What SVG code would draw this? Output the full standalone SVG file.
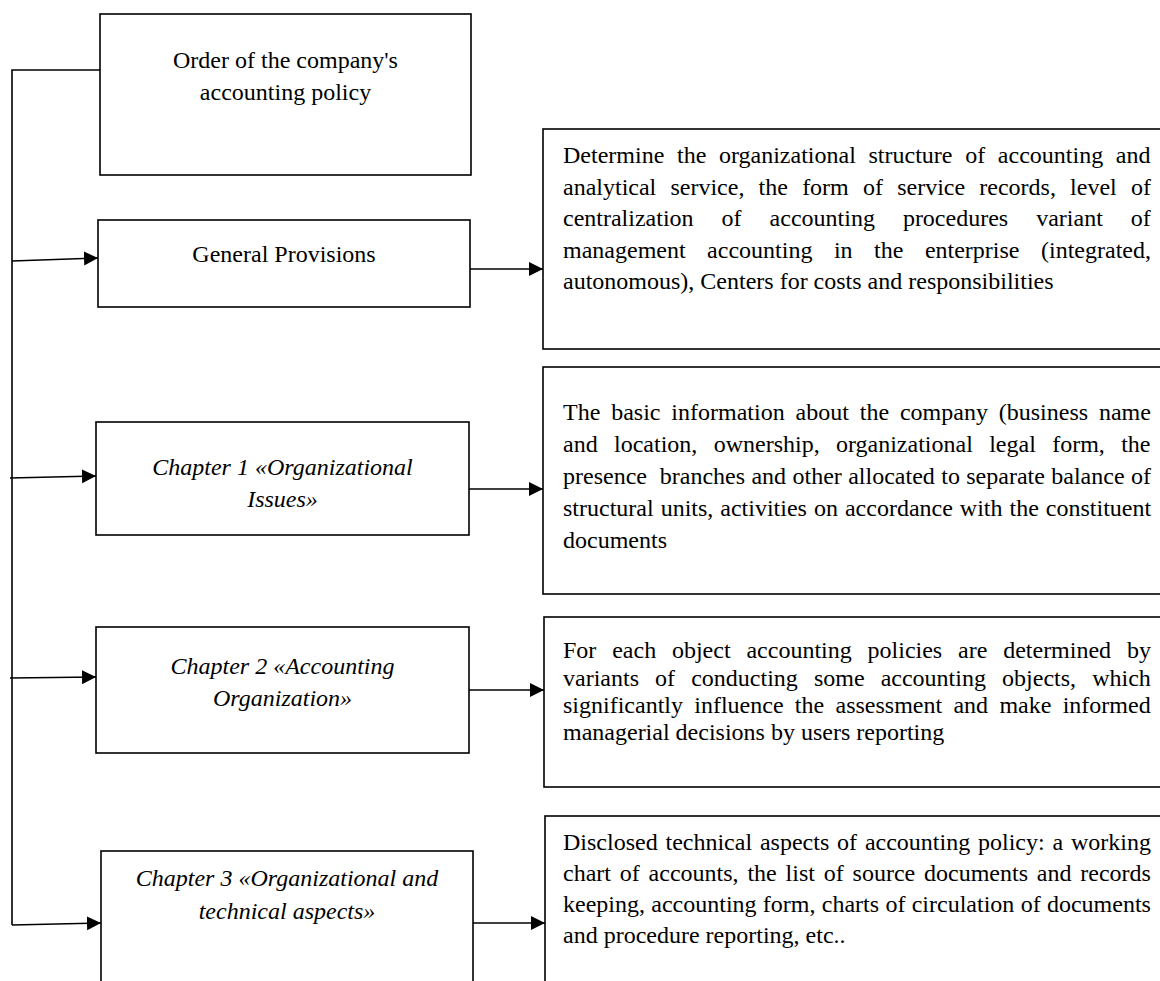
<svg xmlns="http://www.w3.org/2000/svg" width="1160" height="981" viewBox="0 0 1160 981">
<style>
.box{fill:#fff;stroke:#000;stroke-width:1.6}
.c{stroke:#000;stroke-width:1.6;fill:none}
.t{font-family:"Liberation Serif","Times New Roman",serif;font-size:24px;fill:#000}
.m{text-anchor:middle}
.i{font-style:italic}
</style>
<defs>
<marker id="ah" markerUnits="userSpaceOnUse" markerWidth="15" markerHeight="15" refX="14" refY="7" orient="auto">
<path d="M0,0 L14,7 L0,14 z" fill="#000"/>
</marker>
</defs>
<g id="connectors">
<polyline class="c" points="100,70 12,70 12,925"/>
<line class="c" x1="12" y1="261" x2="98" y2="258" marker-end="url(#ah)"/>
<line class="c" x1="10" y1="478" x2="96" y2="476" marker-end="url(#ah)"/>
<line class="c" x1="10" y1="678" x2="96" y2="677" marker-end="url(#ah)"/>
<line class="c" x1="12" y1="925" x2="101" y2="923" marker-end="url(#ah)"/>
<line class="c" x1="470" y1="269" x2="543" y2="269" marker-end="url(#ah)"/>
<line class="c" x1="469" y1="489" x2="543" y2="489" marker-end="url(#ah)"/>
<line class="c" x1="469" y1="690" x2="544" y2="690" marker-end="url(#ah)"/>
<line class="c" x1="473" y1="923" x2="545" y2="923" marker-end="url(#ah)"/>
</g>
<g id="order">
<rect class="box" x="100" y="14" width="371" height="161"/>
<text class="t m" x="285.5" y="68">Order of the company's</text>
<text class="t m" x="285.5" y="100">accounting policy</text>
</g>
<g id="general">
<rect class="box" x="98" y="220" width="372" height="87"/>
<text class="t m" x="284" y="262">General Provisions</text>
</g>
<g id="chapter1">
<rect class="box" x="96" y="422" width="373" height="113"/>
<text class="t m i" x="282.5" y="475">Chapter 1 «Organizational</text>
<text class="t m i" x="282.5" y="507">Issues»</text>
</g>
<g id="chapter2">
<rect class="box" x="96" y="627" width="373" height="126"/>
<text class="t m i" x="282.5" y="674">Chapter 2 «Accounting</text>
<text class="t m i" x="282.5" y="706">Organization»</text>
</g>
<g id="chapter3">
<rect class="box" x="101" y="851" width="372" height="140"/>
<text class="t m i" x="287" y="886">Chapter 3 «Organizational and</text>
<text class="t m i" x="287" y="919">technical aspects»</text>
</g>
<g id="desc-general">
<rect class="box" x="543" y="129" width="630" height="220"/>
<text class="t" x="563" y="163" word-spacing="6.69">Determine the organizational structure of accounting and</text>
<text class="t" x="563" y="194.5" word-spacing="8.19">analytical service, the form of service records, level of</text>
<text class="t" x="563" y="226" word-spacing="22">centralization of accounting procedures variant of</text>
<text class="t" x="563" y="257.5" word-spacing="15.5">management accounting in the enterprise (integrated,</text>
<text class="t" x="563" y="289">autonomous), Centers for costs and responsibilities</text>
</g>
<g id="desc-chapter1">
<rect class="box" x="543" y="367" width="630" height="227"/>
<text class="t" x="563" y="420" word-spacing="4.87">The basic information about the company (business name</text>
<text class="t" x="563" y="452" word-spacing="10.35">and location, ownership, organizational legal form, the</text>
<text class="t" x="563" y="484" word-spacing="0.4" xml:space="preserve">presence  branches and other allocated to separate balance of</text>
<text class="t" x="563" y="516" word-spacing="1.0">structural units, activities on accordance with the constituent</text>
<text class="t" x="563" y="548">documents</text>
</g>
<g id="desc-chapter2">
<rect class="box" x="544" y="617" width="630" height="170"/>
<text class="t" x="563" y="658" word-spacing="9.83">For each object accounting policies are determined by</text>
<text class="t" x="563" y="685.5" word-spacing="10.1">variants of conducting some accounting objects, which</text>
<text class="t" x="563" y="713" word-spacing="5.3">significantly influence the assessment and make informed</text>
<text class="t" x="563" y="740">managerial decisions by users reporting</text>
</g>
<g id="desc-chapter3">
<rect class="box" x="545" y="816" width="630" height="175"/>
<text class="t" x="563" y="850" word-spacing="1.83">Disclosed technical aspects of accounting policy: a working</text>
<text class="t" x="563" y="881" word-spacing="2.83">chart of accounts, the list of source documents and records</text>
<text class="t" x="563" y="912" word-spacing="0.3">keeping, accounting form, charts of circulation of documents</text>
<text class="t" x="563" y="943">and procedure reporting, etc..</text>
</g>
</svg>
